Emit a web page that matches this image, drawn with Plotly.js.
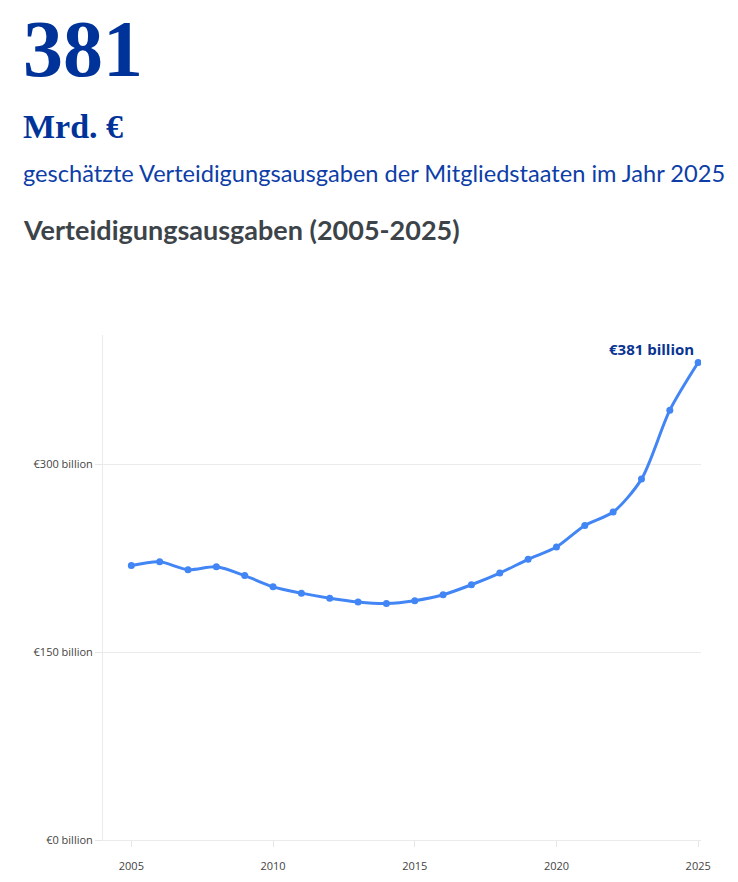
<!DOCTYPE html>
<html>
<head>
<meta charset="utf-8">
<script src="https://cdn.plot.ly/plotly-3.0.1.min.js"></script>
<style>
  html, body { margin: 0; padding: 0; background: #fff; }
  #chart { width: 738px; height: 882px; }
</style>
</head>
<body>
<div id="chart"></div>
<script>
// Verteidigungsausgaben der Mitgliedstaaten, Mrd. EUR
var years = [2005, 2006, 2007, 2008, 2009, 2010, 2011, 2012, 2013, 2014, 2015,
             2016, 2017, 2018, 2019, 2020, 2021, 2022, 2023, 2024, 2025];
var spending = [219, 222, 215.7, 218, 211, 202, 197, 193, 190, 188.8, 191,
                195.7, 203.7, 213, 224, 233.8, 251, 261.7, 288, 343, 381];
var yTicks = [0, 150, 300];
var yTickText = ['€0 billion', '€150 billion', '€300 billion'];
var xTicks = [2005, 2010, 2015, 2020, 2025];

var blue = '#4285f4';
var navy = '#003399';

var trace = {
  x: years,
  y: spending,
  type: 'scatter',
  mode: 'lines+markers',
  line: { color: blue, width: 3, shape: 'spline', smoothing: 0.8 },
  marker: { color: blue, size: 7 },
  hoverinfo: 'skip'
};

// header texts sit above the plot area, positioned by pixel shift from its top-left corner
function header(text, size, color, family, yPix) {
  return {
    xref: 'paper', yref: 'paper', x: 0, y: 1,
    xanchor: 'left', yanchor: 'middle',
    xshift: -82, yshift: 335 - yPix,
    showarrow: false, align: 'left',
    text: text,
    font: { size: size, color: color, family: family }
  };
}

var last = years.length - 1;

var layout = {
  width: 738,
  height: 882,
  margin: { l: 103, r: 37, t: 335, b: 42 },
  paper_bgcolor: '#fff',
  plot_bgcolor: '#fff',
  showlegend: false,
  font: { family: 'Open Sans, sans-serif', size: 11, color: '#444' },
  xaxis: {
    range: [2004, 2025.1],
    tickvals: xTicks,
    ticks: 'outside', ticklen: 6, tickcolor: '#e6e6e6',
    ticklabelstandoff: 10,
    showgrid: false, zeroline: false,
    showline: true, linecolor: '#ebebeb', linewidth: 1,
    tickfont: { size: 11, color: '#444' }
  },
  yaxis: {
    range: [0, 403],
    tickvals: yTicks,
    ticktext: yTickText,
    ticks: 'outside', ticklen: 7, tickcolor: '#e6e6e6',
    showgrid: true, gridcolor: '#ebebeb',
    zeroline: false,
    showline: true, linecolor: '#ebebeb', linewidth: 1,
    tickfont: { size: 11, color: '#444' }
  },
  annotations: [
    header('<b>381</b>', 80, navy, 'Liberation Serif, serif', 49),
    header('<b>Mrd. €</b>', 34, navy, 'Liberation Serif, serif', 126),
    header('geschätzte Verteidigungsausgaben der Mitgliedstaaten im Jahr 2025', 23.6, '#0d3ea8', 'Lato, sans-serif', 173),
    header('<b>Verteidigungsausgaben (2005-2025)</b>', 27, '#3d4449', 'Lato, sans-serif', 229),
    {
      x: years[last], y: spending[last],
      xanchor: 'right', yanchor: 'middle',
      xshift: -2, yshift: 14,
      showarrow: false,
      text: '<b>€' + spending[last] + ' billion</b>',
      font: { size: 15, color: '#0a3491', family: 'Open Sans, sans-serif' }
    }
  ]
};

Plotly.newPlot('chart', [trace], layout, { displayModeBar: false, staticPlot: true });
</script>
</body>
</html>
